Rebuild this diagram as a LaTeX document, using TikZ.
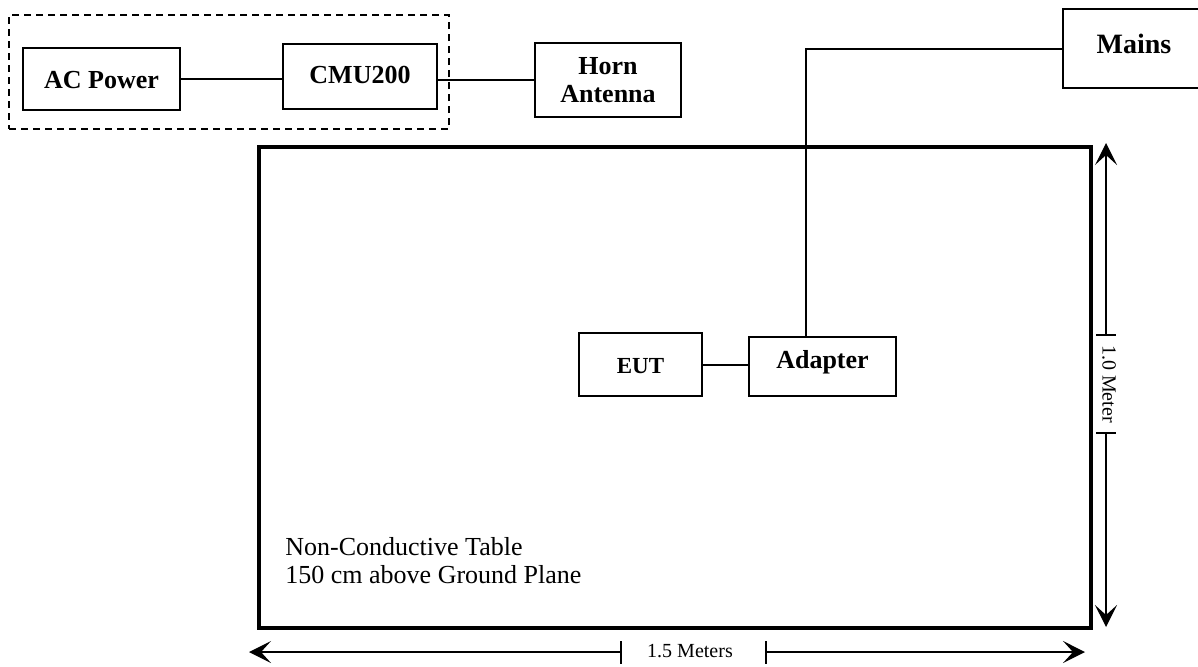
\documentclass[tikz,border=0pt]{standalone}
\usepackage{fontspec}
\setmainfont{Liberation Serif}
\usetikzlibrary{arrows.meta}

\begin{document}
\begin{tikzpicture}[
    x=0.5pt, y=-0.5pt,
    box/.style={draw=black, line width=1pt, inner sep=0pt, anchor=north west, align=center,
      font=\fontsize{13}{14}\selectfont\bfseries},
    wire/.style={draw=black, line width=1pt},
    dimline/.style={draw=black, line width=0.7pt},
    dimtip/.style={-{Stealth[length=11pt,width=11pt,inset=5pt]}},
    lbl/.style={font=\fontsize{13}{14}\selectfont, align=left, inner sep=0pt},
    dimlbl/.style={font=\fontsize{10}{12}\selectfont, inner sep=0pt},
  ]

  \useasboundingbox (0,0) rectangle (1198,666);
  \def\tick{5pt}

  % ---------- test set
  \node[draw=black, line width=1pt, dash pattern=on 3.5pt off 2.5pt, anchor=north west,
    minimum width=220pt, minimum height=57pt, inner sep=0pt] (rack) at (8,14) {};
  \node[box, minimum width=78.5pt, text height=20pt, text depth=11pt] (acpower) at (22,47) {AC Power};
  \node[box, minimum width=77pt, text height=19.5pt, text depth=13pt] (cmu) at (282,43) {CMU200};
  \node[box, minimum width=73pt, minimum height=37pt] (horn) at (534,42) {Horn\\Antenna};
  \draw[wire] (acpower.east) -- (acpower.east -| cmu.west);
  \draw[wire] (cmu.east |- horn.west) -- (horn.west);

  % ---------- table
  \node[draw=black, line width=1.8pt, anchor=north west, minimum width=416pt,
    minimum height=240.5pt, inner sep=0pt] (table) at (257,145) {};
  \node[lbl, anchor=north west] (tablenote) at (285,537)
    {Non-Conductive Table\\150 cm above Ground Plane};

  % ---------- EUT and supply
  \node[box, font=\fontsize{11.5}{13}\selectfont\bfseries, minimum width=61.5pt,
    text height=20pt, text depth=11.5pt] (eut) at (578,332) {EUT};
  \node[box, minimum width=73.5pt, text height=15.5pt, text depth=14pt] (adapter) at (748,336) {Adapter};
  \node[box, font=\fontsize{14}{16}\selectfont\bfseries, minimum width=71pt,
    text height=22pt, text depth=17.5pt] (mains) at (1062,8) {Mains};
  \draw[wire] (eut.east) -- (eut.east -| adapter.west);
  \draw[wire] (mains.west) -| ([xshift=-8.5pt]adapter.north);

  % ---------- 1.0 m
  \coordinate (vtop) at (1106,143);
  \coordinate (vbot) at (1106,627);
  \coordinate (vtick1) at (1106,335);
  \coordinate (vtick2) at (1106,433);
  \draw[dimline, dimtip] (vtick1) -- (vtop);
  \draw[dimline, dimtip] (vtick2) -- (vbot);
  \draw[dimline] ([xshift=-\tick]vtick1) -- ([xshift=\tick]vtick1);
  \draw[dimline] ([xshift=-\tick]vtick2) -- ([xshift=\tick]vtick2);
  \node[dimlbl, rotate=-90] (vlbl) at (1109,384) {1.0 Meter};

  % ---------- 1.5 m
  \coordinate (hleft) at (249,652);
  \coordinate (hright) at (1085,652);
  \coordinate (htick1) at (621,652);
  \coordinate (htick2) at (766,652);
  \draw[dimline, dimtip] (htick1) -- (hleft);
  \draw[dimline, dimtip] (htick2) -- (hright);
  \draw[dimline] ([yshift=-5.75pt]htick1) -- ([yshift=5.75pt]htick1);
  \draw[dimline] ([yshift=-5.75pt]htick2) -- ([yshift=5.75pt]htick2);
  \node[dimlbl] (hlbl) at (690,651) {1.5 Meters};

\end{tikzpicture}
\end{document}
